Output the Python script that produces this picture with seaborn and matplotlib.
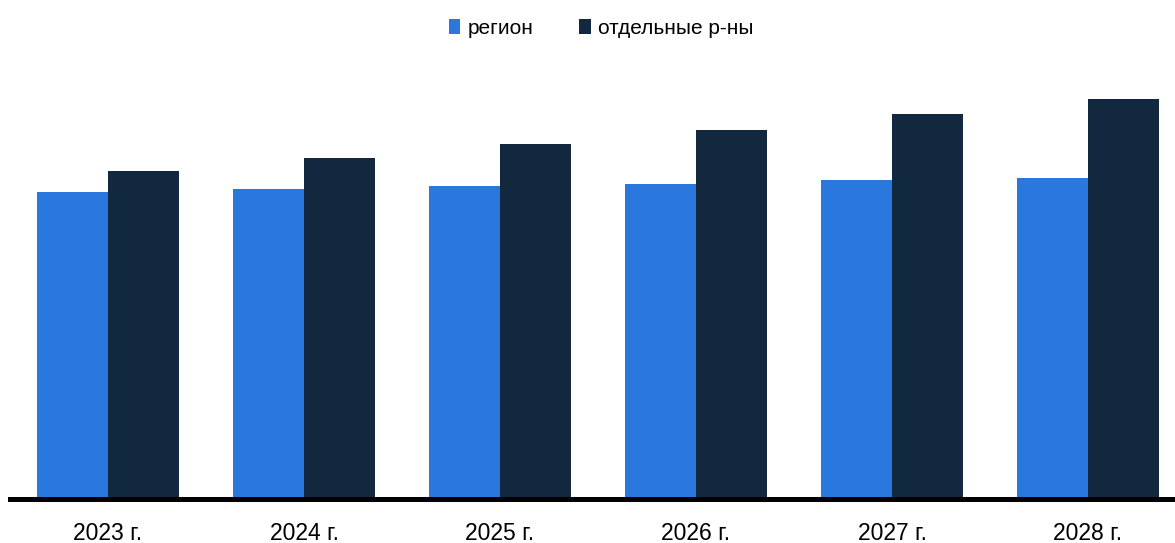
import matplotlib
matplotlib.use("Agg")
import matplotlib.pyplot as plt
import seaborn as sns
import pandas as pd
from matplotlib.patches import Patch

years = ["2023 г.", "2024 г.", "2025 г.", "2026 г.", "2027 г.", "2028 г."]
series_names = ["регион", "отдельные р-ны"]
region = [307.0, 310.0, 312.5, 315.0, 318.5, 321.0]
districts = [328.0, 341.0, 354.5, 369.0, 384.5, 400.0]
colors = ["#2a77dd", "#12283f"]

df = pd.DataFrame({
    "year": years * 2,
    "series": [series_names[0]] * len(years) + [series_names[1]] * len(years),
    "value": region + districts,
})

sns.set_theme(style="white")
plt.rcParams["font.family"] = ["Liberation Sans", "DejaVu Sans"]

fig = plt.figure(figsize=(11.75, 5.43), dpi=100)
W, H = 1175, 543
ax_left, ax_right = 10, 1175
ax_top, ax_bottom = 60, 498.5
ax = fig.add_axes([ax_left / W, (H - ax_bottom) / H,
                   (ax_right - ax_left) / W, (ax_bottom - ax_top) / H])

sns.barplot(data=df, x="year", y="value", hue="series", order=years,
            hue_order=series_names, palette=colors, width=0.724, gap=0,
            linewidth=0, saturation=1, ax=ax, legend=False)

ax.set_xlim(-0.5, -0.5 + (ax_right - ax_left) / 196.0)
ax.set_ylim(0, ax_bottom - ax_top)
ax.set_xlabel("")
ax.set_ylabel("")
ax.set_yticks([])
for side in ["left", "right", "top"]:
    ax.spines[side].set_visible(False)
ax.spines["bottom"].set_color("black")
ax.spines["bottom"].set_linewidth(3.6)
ax.spines["bottom"].set_zorder(3)
ax.tick_params(axis="x", length=0, pad=17, labelsize=16.5, labelcolor="black")

handles = [Patch(facecolor=c, edgecolor="none", label=n)
           for c, n in zip(colors, series_names)]
fig.legend(handles=handles, loc="center", bbox_to_anchor=(601 / W, 1 - 28 / H),
           ncol=2, frameon=False, fontsize=15, handlelength=0.55,
           handleheight=0.7, handletextpad=0.35, columnspacing=2.2,
           labelcolor="black")

fig.savefig("out.png", dpi=100)
